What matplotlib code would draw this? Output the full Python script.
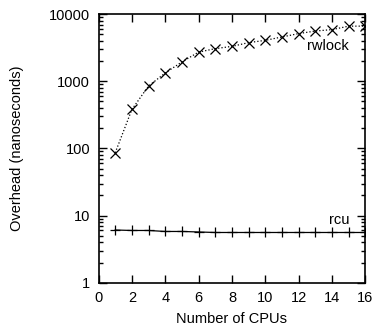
import matplotlib
matplotlib.use("Agg")
import matplotlib.pyplot as plt
from matplotlib.ticker import LogLocator, NullFormatter

plt.rcParams['font.family'] = ['Liberation Sans', 'DejaVu Sans']

cpus = [1, 2, 3, 4, 5, 6, 7, 8, 9, 10, 11, 12, 13, 14, 15, 16]
rwlock = [86, 380, 850, 1330, 1940, 2720, 3060, 3310, 3760, 4070, 4570, 5130, 5600, 5880, 6620, 6620]
rcu = [6.1, 6.0, 6.0, 5.8, 5.8, 5.7, 5.6, 5.6, 5.6, 5.6, 5.6, 5.6, 5.6, 5.6, 5.6, 5.6]
xticks = [0, 2, 4, 6, 8, 10, 12, 14, 16]
yticks = [1, 10, 100, 1000, 10000]
ytick_labels = ['1', '10', '100', '1000', '10000']

fig = plt.figure(figsize=(3.78, 3.28), dpi=100)
ax = fig.add_axes([0.2606, 0.138, 0.7063, 0.819])

ax.plot(cpus, rwlock, color='black', linestyle=':', linewidth=0.9,
        marker='x', markersize=7.5, markeredgewidth=0.9)
ax.plot(cpus, rcu, color='black', linestyle='-', linewidth=0.9,
        marker='+', markersize=7.5, markeredgewidth=0.9)

ax.set_yscale('log')
ax.set_xlim(0, 16)
ax.set_ylim(1, 10000)
ax.set_xticks(xticks)
ax.set_xticklabels([str(t) for t in xticks])
ax.set_yticks(yticks)
ax.set_yticklabels(ytick_labels)
ax.yaxis.set_minor_locator(LogLocator(base=10, subs=range(2, 10)))
ax.yaxis.set_minor_formatter(NullFormatter())

ax.tick_params(axis='both', which='major', direction='in', top=True, right=True,
               length=6, width=1, labelsize=10.5, pad=6)
ax.tick_params(axis='y', which='minor', direction='in', left=True, right=True,
               length=3, width=1)
for s in ax.spines.values():
    s.set_linewidth(1.2)

ax.text(15.0, 3300, 'rwlock', ha='right', va='center', fontsize=10.5)
ax.text(15.05, 8.6, 'rcu', ha='right', va='center', fontsize=10.5)

ax.set_xlabel('Number of CPUs', fontsize=10.5, labelpad=5)
ax.set_ylabel('Overhead (nanoseconds)', fontsize=10.5, labelpad=18)

fig.savefig('out.png', dpi=100)
